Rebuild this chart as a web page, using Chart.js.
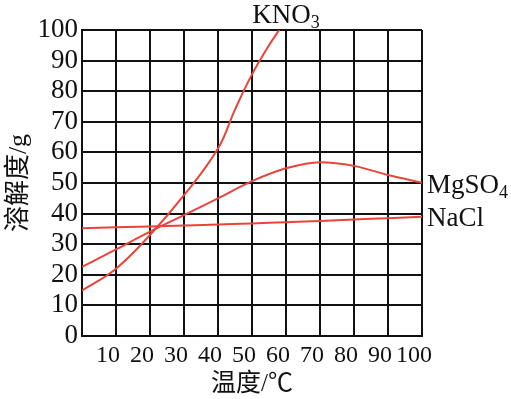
<!DOCTYPE html>
<html>
<head>
<meta charset="utf-8">
<script src="https://cdn.jsdelivr.net/npm/chart.js@4.4.0/dist/chart.umd.min.js"></script>
<style>
  html, body { margin: 0; padding: 0; background: #fff; }
  canvas { display: block; }
</style>
</head>
<body>
<canvas id="solChart" width="511" height="399"></canvas>
<script>
// temperatures (℃) and solubility (g)
const temps = [0, 10, 20, 30, 40, 50, 60, 70, 80, 90, 100];
const knoTemps = [0, 10, 20, 30, 40, 45, 50, 55, 58];
const knoValues = [14.8, 22, 33, 46, 61.3, 74, 85.5, 95, 100];
const mgValues = [22.6, 28.3, 34.1, 39.5, 45, 50.6, 54.8, 56.8, 55.6, 52.6, 50.1];
const naclValues = [35.2, 35.5, 35.8, 36.1, 36.4, 36.8, 37.2, 37.6, 38.1, 38.5, 39];

const xTitle = '温度/℃';
const yTitle = '溶解度/g';
const serif = '"Liberation Serif", "Times New Roman", "Noto Sans CJK SC", serif';
const red = '#e8453a';
const ink = '#111';

function toPoints(xs, ys) {
    return xs.map((t, i) => ({ x: t, y: ys[i] }));
}

function drawFormula(ctx, main, sub, px, py) {
    ctx.font = '27px ' + serif;
    ctx.fillText(main, px, py);
    const w = ctx.measureText(main).width;
    if (sub) {
        ctx.font = '18px ' + serif;
        ctx.fillText(sub, px + w, py + 5);
    }
}

const curveLabels = {
    id: 'curveLabels',
    afterDatasetsDraw(chart) {
        const { ctx, chartArea, scales: { x, y } } = chart;
        ctx.save();
        ctx.fillStyle = ink;
        ctx.textBaseline = 'alphabetic';
        drawFormula(ctx, 'KNO', '3', x.getPixelForValue(knoTemps[knoTemps.length - 1]) - 27, chartArea.top - 7);
        drawFormula(ctx, 'MgSO', '4', chartArea.right + 5, y.getPixelForValue(mgValues[mgValues.length - 1]) + 10);
        drawFormula(ctx, 'NaCl', '', chartArea.right + 5, y.getPixelForValue(naclValues[naclValues.length - 1]) + 9);
        ctx.restore();
    }
};

const solCtx = document.getElementById('solChart').getContext('2d');
let solChart = new Chart(solCtx, {
    type: 'line',
    data: {
        datasets: [
            { label: 'KNO3', data: toPoints(knoTemps, knoValues), cubicInterpolationMode: 'default', tension: 0.4 },
            { label: 'MgSO4', data: toPoints(temps, mgValues) },
            { label: 'NaCl', data: toPoints(temps, naclValues) }
        ]
    },
    options: {
        responsive: false,
        animation: false,
        events: [],
        layout: { padding: { left: 0, right: 89, top: 30, bottom: 0 } },
        elements: {
            point: { radius: 0 },
            line: { borderColor: red, borderWidth: 2, cubicInterpolationMode: 'monotone', fill: false }
        },
        plugins: { legend: { display: false }, tooltip: { enabled: false } },
        scales: {
            x: {
                type: 'linear',
                min: 0,
                max: 100,
                afterFit(scale) { scale.height = 63; },
                border: { color: ink, width: 2 },
                grid: { color: ink, lineWidth: 2, drawTicks: false },
                ticks: {
                    stepSize: 10,
                    autoSkip: false,
                    maxRotation: 0,
                    padding: 5,
                    labelOffset: -8,
                    color: ink,
                    font: { family: serif, size: 24 },
                    callback: (v) => (v === 0 ? '' : v)
                },
                title: {
                    display: true,
                    text: xTitle,
                    color: ink,
                    padding: { top: 0, bottom: 0 },
                    font: { family: serif, size: 25 }
                }
            },
            y: {
                min: 0,
                max: 100,
                afterFit(scale) { scale.width = 82; },
                border: { color: ink, width: 2 },
                grid: { color: ink, lineWidth: 2, drawTicks: false },
                ticks: {
                    stepSize: 10,
                    autoSkip: false,
                    padding: 4,
                    color: ink,
                    font: { family: serif, size: 27 }
                },
                title: {
                    display: true,
                    text: yTitle,
                    color: ink,
                    padding: { top: 4, bottom: 0 },
                    font: { family: serif, size: 26 }
                }
            }
        }
    },
    plugins: [curveLabels]
});
</script>
</body>
</html>
